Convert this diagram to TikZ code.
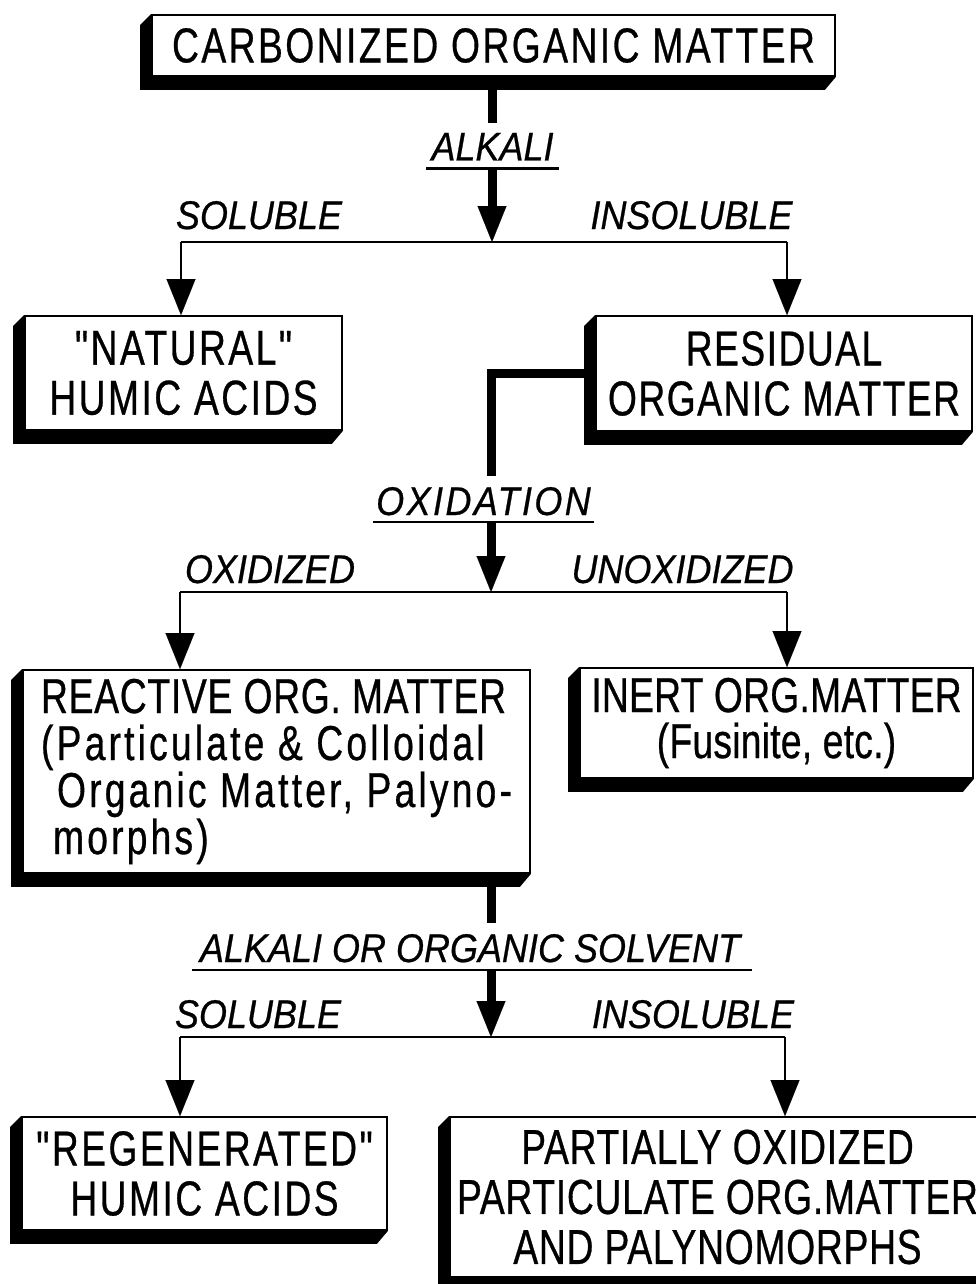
\documentclass[tikz,border=0pt]{standalone}
\usepackage{fontspec}
\setmainfont{Liberation Sans}
\newfontfamily\boxfont[FakeStretch=0.76,FakeBold=0.6]{Liberation Sans}
\newfontfamily\labfont[FakeStretch=0.9,FakeBold=0.6]{Liberation Sans}
\usetikzlibrary{arrows.meta}
\pgfdeclarelayer{bg}
\pgfsetlayers{bg,main}
\newcommand\bxf[1]{\boxfont\addfontfeatures{LetterSpace=#1}}
\newcommand\lcsp{\addfontfeatures{LetterSpace=6.5}}
\tikzset{
  sbox/.style={draw, fill=white, line width=1.8pt, inner sep=0pt, align=center,
    font=\bxf{5}\fontsize{49}{50}\selectfont},
  lab/.style={inner xsep=0pt, inner ysep=0pt, text height=28pt, text depth=0pt,
    font=\labfont\itshape\fontsize{40}{40}\selectfont},
  trunk/.style={line width=9pt},
  twig/.style={line width=2.5pt},
  uline/.style={line width=2.5pt},
  arrowhd/.style={-{Triangle[width=29pt,length=36pt,line width=0.1pt]}},
}
\begin{document}
\begin{tikzpicture}[x=1pt,y=-1pt,line join=miter]
\useasboundingbox (0,0) rectangle (976,1284);

% boxes
\node[sbox, minimum width=683pt, minimum height=61pt] (b1) at (493.5,45.5) {CARBONIZED ORGANIC MATTER};
\node[sbox, minimum width=317pt, minimum height=114pt] (b2) at (183.5,373) {"NATURAL"\\HUMIC ACIDS};
\node[sbox, minimum width=376pt, minimum height=115pt, font=\bxf{3}\fontsize{49}{50}\selectfont] (b3) at (784,373.5) {RESIDUAL\\ORGANIC MATTER};
\node[sbox, align=left, minimum width=507pt, minimum height=203pt,
  font=\bxf{1.5}\fontsize{49}{47}\selectfont] (b4) at (276.5,771.5)
  {REACTIVE ORG. MATTER\\{\lcsp(Particulate \& Colloidal}\\{\lcsp\hspace*{16pt}Organic Matter, Palyno-}\\{\lcsp\hspace*{12pt}morphs)}};
\node[sbox, minimum width=393pt, minimum height=110pt, font=\bxf{0.5}\fontsize{49}{46}\selectfont] (b5) at (776.5,723) {INERT ORG.MATTER\\(Fusinite, etc.)};
\node[sbox, minimum width=365pt, minimum height=113pt] (b6) at (204.5,1173.5) {"REGENERATED"\\HUMIC ACIDS};
\node[sbox, minimum width=535pt, minimum height=160pt, font=\bxf{1.5}\fontsize{49}{50}\selectfont] (b7) at (717.5,1197) {PARTIALLY OXIDIZED\\PARTICULATE ORG.MATTER\\AND PALYNOMORPHS};

% background and shadows
\begin{pgfonlayer}{bg}
\fill[white] (0,0) rectangle (976,1284);
\foreach \n in {b1,b2,b3,b4,b5,b6,b7}{
  \fill[black] (\n.north west) -- ([shift={(-11,11)}]\n.north west) -- ([shift={(-11,13)}]\n.south west)
    -- ([shift={(-11,13)}]\n.south east) -- (\n.south east) -- cycle;
}
\end{pgfonlayer}

% labels
\node[lab] (alkali) at (492.5,146.5) {ALKALI};
\node[lab] (sol1) at (259,215) {SOLUBLE};
\node[lab] (insol1) at (691.5,215) {INSOLUBLE};
\node[lab, font=\labfont\itshape\fontsize{40}{40}\selectfont\addfontfeatures{LetterSpace=6}] (oxid) at (483.5,501) {OXIDATION};
\node[lab] (oxd) at (270,569) {OXIDIZED};
\node[lab] (unoxd) at (682.5,569) {UNOXIDIZED};
\node[lab] (aos) at (470,948) {ALKALI OR ORGANIC SOLVENT};
\node[lab] (sol3) at (258,1014) {SOLUBLE};
\node[lab] (insol3) at (693,1014) {INSOLUBLE};

% underlines
\draw[uline] ([shift={(-5,8)}]alkali.south west) -- ([shift={(5,8)}]alkali.south east);
\draw[uline] ([shift={(-3,7)}]oxid.south west) -- ([shift={(3,7)}]oxid.south east);
\draw[uline] ([shift={(-8,8)}]aos.south west) -- ([shift={(12,8)}]aos.south east);

% section 1
\coordinate (s1a) at (492,123);
\coordinate (s1b) at (492,169);
\coordinate (j1) at (492,242);
\coordinate (l1) at (181,242);
\coordinate (r1) at (787,242);
\draw[trunk] (b1.south -| s1a) -- (s1a);
\draw[trunk, arrowhd] (s1b) -- (j1);
\draw[twig] (l1) -- (r1);
\draw[twig, arrowhd] (l1) -- (l1 |- b2.north);
\draw[twig, arrowhd] (r1) -- (r1 |- b3.north);

% section 2
\coordinate (s2a) at (491,476);
\coordinate (s2b) at (491,522);
\coordinate (j2) at (491,592);
\coordinate (l2) at (180,592);
\coordinate (r2) at (787,592);
\draw[trunk] (b3.west) -| (s2a);
\draw[trunk, arrowhd] (s2b) -- (j2);
\draw[twig] (l2) -- (r2);
\draw[twig, arrowhd] (l2) -- (l2 |- b4.north);
\draw[twig, arrowhd] (r2) -- (r2 |- b5.north);

% section 3
\coordinate (s3a) at (491,923);
\coordinate (s3b) at (491,971);
\coordinate (j3) at (491,1037);
\coordinate (l3) at (180,1037);
\coordinate (r3) at (785,1037);
\draw[trunk] (b4.south -| s3a) -- (s3a);
\draw[trunk, arrowhd] (s3b) -- (j3);
\draw[twig] (l3) -- (r3);
\draw[twig, arrowhd] (l3) -- (l3 |- b6.north);
\draw[twig, arrowhd] (r3) -- (r3 |- b7.north);
\end{tikzpicture}
\end{document}
